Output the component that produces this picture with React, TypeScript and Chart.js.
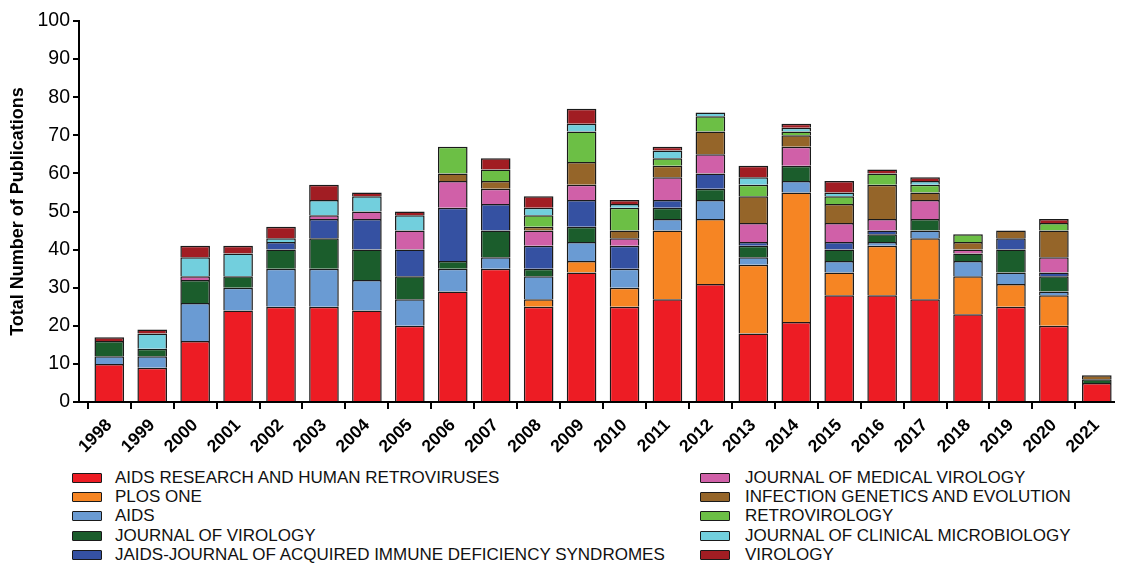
import React, { useEffect, useRef } from "react";
import { Chart, registerables } from "chart.js";

Chart.register(...registerables);

const years = ["1998", "1999", "2000", "2001", "2002", "2003", "2004", "2005", "2006", "2007", "2008", "2009", "2010", "2011", "2012", "2013", "2014", "2015", "2016", "2017", "2018", "2019", "2020", "2021"];

const seriesNames = [
  "AIDS RESEARCH AND HUMAN RETROVIRUSES",
  "PLOS ONE",
  "AIDS",
  "JOURNAL OF VIROLOGY",
  "JAIDS-JOURNAL OF ACQUIRED IMMUNE DEFICIENCY SYNDROMES",
  "JOURNAL OF MEDICAL VIROLOGY",
  "INFECTION GENETICS AND EVOLUTION",
  "RETROVIROLOGY",
  "JOURNAL OF CLINICAL MICROBIOLOGY",
  "VIROLOGY",
];

const seriesColors = ["#ED1C24", "#F68523", "#6A9BD3", "#1B5D2C", "#3551A2", "#D060A8", "#956529", "#6CBF45", "#72CFDD", "#A11D23"];

const aidsResearch = [10, 9, 16, 24, 25, 25, 24, 20, 29, 35, 25, 34, 25, 27, 31, 18, 21, 28, 28, 27, 23, 25, 20, 5];
const plosOne = [0, 0, 0, 0, 0, 0, 0, 0, 0, 0, 2, 3, 5, 18, 17, 18, 34, 6, 13, 16, 10, 6, 8, 0];
const aids = [2, 3, 10, 6, 10, 10, 8, 7, 6, 3, 6, 5, 5, 3, 5, 2, 3, 3, 1, 2, 4, 3, 1, 0];
const journalOfVirology = [4, 2, 6, 3, 5, 8, 8, 6, 2, 7, 2, 4, 0, 3, 3, 3, 4, 3, 2, 3, 2, 6, 4, 1];
const jaids = [0, 0, 0, 0, 2, 5, 8, 7, 14, 7, 6, 7, 6, 2, 4, 1, 0, 2, 1, 0, 0, 3, 1, 0];
const journalOfMedicalVirology = [0, 0, 1, 0, 0, 1, 2, 5, 7, 4, 4, 4, 2, 6, 5, 5, 5, 5, 3, 5, 1, 0, 4, 0];
const infectionGenetics = [0, 0, 0, 0, 0, 0, 0, 0, 2, 2, 1, 6, 2, 3, 6, 7, 3, 5, 9, 2, 2, 2, 7, 1];
const retrovirology = [0, 0, 0, 0, 0, 0, 0, 0, 7, 3, 3, 8, 6, 2, 4, 3, 1, 2, 3, 2, 2, 0, 2, 0];
const journalOfClinicalMicrobiology = [0, 4, 5, 6, 1, 4, 4, 4, 0, 0, 2, 2, 1, 2, 1, 2, 1, 1, 0, 1, 0, 0, 0, 0];
const virology = [1, 1, 3, 2, 3, 4, 1, 1, 0, 3, 3, 4, 1, 1, 0, 3, 1, 3, 1, 1, 0, 0, 1, 0];

const seriesValues = [aidsResearch, plosOne, aids, journalOfVirology, jaids, journalOfMedicalVirology, infectionGenetics, retrovirology, journalOfClinicalMicrobiology, virology];

const yTicks = [0, 10, 20, 30, 40, 50, 60, 70, 80, 90, 100];

const FONT = "'Liberation Sans', Arial, Helvetica, sans-serif";
const CANVAS_W = 1122;
const CANVAS_H = 460;
const AREA_LEFT = 79;
const AREA_RIGHT = 1114;
const AREA_TOP = 21;
const AREA_BOTTOM = 402;

export default function App() {
  const canvasRef = useRef<HTMLCanvasElement | null>(null);

  useEffect(() => {
    if (!canvasRef.current) return;
    const datasets = seriesNames.map((name, s) => ({
      label: name,
      data: seriesValues[s].map((v, i) => ({ x: i, y: v === 0 ? null : v })),
      backgroundColor: seriesColors[s],
      borderColor: "#1a1a1a",
      borderWidth: 1.5,
      barPercentage: 0.69,
      categoryPercentage: 1,
      stack: "pubs",
    }));

    const chart = new Chart(canvasRef.current, {
      type: "bar",
      data: { datasets: datasets as any },
      options: {
        animation: false,
        responsive: false,
        devicePixelRatio: 1,
        layout: { padding: { top: AREA_TOP, right: CANVAS_W - AREA_RIGHT, left: 0, bottom: 0 } },
        plugins: { legend: { display: false }, tooltip: { enabled: false } },
        scales: {
          x: {
            type: "linear",
            stacked: true,
            offset: false,
            min: -0.705,
            max: 23.4,
            afterBuildTicks: (axis: any) => {
              axis.ticks = years.map((_, i) => ({ value: i }));
            },
            afterFit: (axis: any) => {
              axis.height = CANVAS_H - AREA_BOTTOM;
            },
            ticks: {
              autoSkip: false,
              minRotation: 45,
              maxRotation: 45,
              padding: 6,
              color: "#000",
              font: { family: FONT, size: 17.5, weight: "bold" },
              callback: (_v: any, index: number) => years[index],
            },
            grid: { display: true, drawOnChartArea: false, drawTicks: true, tickLength: 7, color: "#000", lineWidth: 2 },
            border: { display: true, color: "#000", width: 2 },
          },
          y: {
            stacked: true,
            min: 0,
            max: 100,
            afterBuildTicks: (axis: any) => {
              axis.ticks = yTicks.map((v) => ({ value: v }));
            },
            afterFit: (axis: any) => {
              axis.width = AREA_LEFT;
            },
            ticks: {
              padding: 3,
              color: "#000",
              font: { family: FONT, size: 19.5 },
            },
            grid: { display: true, drawOnChartArea: false, drawTicks: true, tickLength: 6, color: "#000", lineWidth: 2 },
            border: { display: true, color: "#000", width: 2 },
            title: {
              display: true,
              text: "Total Number of Publications",
              color: "#000",
              font: { family: FONT, size: 18, weight: "bold" },
              padding: { top: 7, bottom: 0 },
            },
          },
        },
      } as any,
    });
    return () => chart.destroy();
  }, []);

  const rowCenters = [478, 497, 516, 535.5, 555];
  const leftItems = seriesNames.slice(0, 5);
  const rightItems = seriesNames.slice(5);

  const legendItem = (name: string, color: string, boxX: number, textX: number, cy: number) => (
    <div key={name} style={{ position: "absolute", left: 0, top: cy - 10, height: 20, width: CANVAS_W }}>
      <div
        style={{
          position: "absolute",
          left: boxX,
          top: 5,
          width: 30,
          height: 10,
          boxSizing: "border-box",
          background: color,
          border: "1.5px solid #1a1a1a",
          borderRadius: 1,
        }}
      />
      <div
        style={{
          position: "absolute",
          left: textX,
          top: 0,
          height: 20,
          lineHeight: "20px",
          fontFamily: FONT,
          fontSize: 17,
          color: "#111",
          whiteSpace: "nowrap",
        }}
      >
        {name}
      </div>
    </div>
  );

  return (
    <div style={{ position: "fixed", left: 0, top: 0, width: CANVAS_W, height: 564, background: "#fff", overflow: "hidden" }}>
      <canvas ref={canvasRef} width={CANVAS_W} height={CANVAS_H} style={{ position: "absolute", left: 0, top: 0 }} />
      {leftItems.map((n, i) => legendItem(n, seriesColors[i], 72, 115, rowCenters[i]))}
      {rightItems.map((n, i) => legendItem(n, seriesColors[i + 5], 700, 745, rowCenters[i]))}
    </div>
  );
}
